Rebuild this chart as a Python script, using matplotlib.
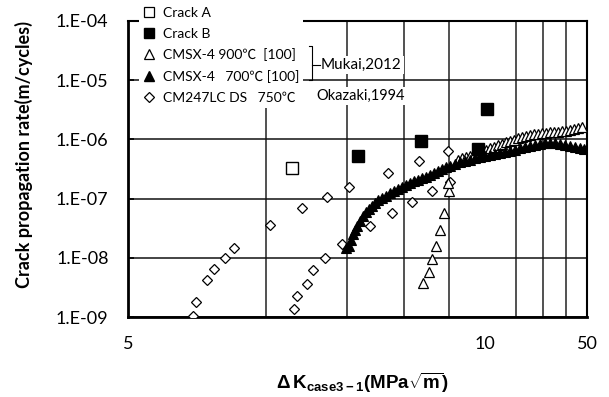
import matplotlib
matplotlib.use("Agg")
import matplotlib.pyplot as plt
from matplotlib.lines import Line2D

plt.rcParams['font.family'] = ['Lato', 'Noto Sans CJK JP', 'DejaVu Sans']
plt.rcParams['mathtext.fontset'] = 'custom'
plt.rcParams['mathtext.bf'] = 'Liberation Sans:bold'
plt.rcParams['mathtext.rm'] = 'Liberation Sans'

# --------------------------------------------------
# DATA  (dK in axis units, rate in m/cycle)
# --------------------------------------------------

crack_a_dk = [11.4]
crack_a_rate = [3.34e-7]

crack_b_dk = [15.85, 21.7, 28.9, 30.3]
crack_b_rate = [5.27e-7, 9.5e-7, 6.9e-7, 3.3e-6]

# CMSX-4 900C [100]  (Mukai, 2012)
cmsx900_dk = [22.0, 22.6, 23.0, 23.4, 23.95, 24.4, 25.0, 24.9,
              26.2, 26.7, 27.25, 27.8, 28.4, 28.9, 29.5, 30.1, 30.7, 31.4,
              32.0, 32.65, 33.3, 34.0, 34.7, 35.4, 36.1, 36.8, 37.6, 38.3,
              39.1, 39.9, 40.7, 41.5, 42.4, 43.2, 44.1, 45.0, 45.9, 46.8,
              47.8, 48.8]
cmsx900_rate = [3.74e-9, 5.65e-9, 9.5e-9, 1.59e-8, 2.97e-8, 5.68e-8, 1.32e-7, 1.85e-7,
                4.51e-7, 4.78e-7, 5.07e-7, 5.27e-7, 5.47e-7, 5.81e-7, 6.15e-7, 6.65e-7,
                7.05e-7, 7.47e-7, 7.92e-7, 8.39e-7, 8.9e-7, 9.44e-7, 9.81e-7, 1.04e-6,
                1.08e-6, 1.12e-6, 1.17e-6, 1.21e-6, 1.24e-6, 1.26e-6, 1.29e-6, 1.31e-6,
                1.31e-6, 1.34e-6, 1.36e-6, 1.39e-6, 1.45e-6, 1.50e-6, 1.56e-6, 1.63e-6]

# CMSX-4 700C [100]  (Mukai, 2012)
cmsx700_dk = [14.9, 15.15, 15.3, 15.46, 15.6, 15.8, 16.0, 16.25, 16.5, 16.75, 17.0,
              17.26, 17.5, 17.9, 18.2, 18.6, 19.0, 19.4, 19.8, 20.2, 20.6,
              21.0, 21.4, 21.9, 22.3, 22.75, 23.2, 23.7, 24.2, 24.65, 25.15,
              25.8, 26.4, 27.1, 27.8, 28.5, 29.2, 30.0, 30.7, 31.5, 32.3,
              33.1, 34.0, 34.85, 35.7, 36.6, 37.6, 38.5, 39.5, 40.5, 41.5,
              42.6, 43.7, 44.8, 45.9, 47.1, 48.3, 49.25]
cmsx700_rate = [1.45e-8, 1.59e-8, 2.01e-8, 2.54e-8, 2.97e-8, 3.47e-8, 4.21e-8, 5.12e-8,
                5.97e-8, 6.71e-8, 7.55e-8, 8.48e-8, 9.53e-8, 1.03e-7, 1.11e-7, 1.25e-7,
                1.35e-7, 1.46e-7, 1.58e-7, 1.71e-7, 1.85e-7, 2.0e-7, 2.07e-7, 2.24e-7,
                2.33e-7, 2.52e-7, 2.72e-7, 2.94e-7, 3.18e-7, 3.43e-7, 3.57e-7, 3.86e-7,
                4.17e-7, 4.34e-7, 4.51e-7, 4.88e-7, 5.07e-7, 5.27e-7, 5.47e-7, 5.69e-7,
                5.92e-7, 6.15e-7, 6.4e-7, 6.65e-7, 7.19e-7, 7.47e-7, 7.77e-7, 8.07e-7,
                8.39e-7, 8.56e-7, 8.73e-7, 8.73e-7, 8.39e-7, 8.07e-7, 7.77e-7, 7.47e-7,
                7.19e-7, 6.92e-7]

# CM247LC DS 750C  (Okazaki, 1994)
cm247_dk = [6.94, 7.02, 7.43, 7.68, 8.13, 8.52, 10.2, 11.5, 11.7, 12.25, 12.65,
            13.4, 14.6, 11.95, 13.55, 15.15, 16.8, 18.4, 18.8, 20.8, 21.5, 23.0,
            24.9, 25.1]
cm247_rate = [1.03e-9, 1.79e-9, 4.14e-9, 6.35e-9, 1.0e-8, 1.46e-8, 3.56e-8, 1.39e-9,
              2.22e-9, 3.64e-9, 6.2e-9, 9.9e-9, 1.74e-8, 6.98e-8, 1.06e-7, 1.54e-7,
              3.47e-8, 2.75e-7, 5.82e-8, 8.9e-8, 4.39e-7, 1.32e-7, 6.47e-7, 1.92e-7]

y_ticks = [1e-9, 1e-8, 1e-7, 1e-6, 1e-5, 1e-4]
y_tick_labels = ["1.E-09", "1.E-08", "1.E-07", "1.E-06", "1.E-05", "1.E-04"]
x_grid = [10, 15, 20, 25, 30, 35, 40, 45]
x_ticks = [5, 30, 50]
x_tick_labels = ["5", "10", "50"]

# --------------------------------------------------
# PLOT
# --------------------------------------------------

fig = plt.figure(figsize=(6.09, 3.97), dpi=100)
ax = fig.add_axes([128 / 609, 1 - 317 / 397, 459 / 609, 296 / 397])

ax.plot(cm247_dk, cm247_rate, ls='none', marker='D', ms=5.4, mfc='white',
        mec='black', mew=0.9, zorder=3)
ax.plot(cmsx900_dk, cmsx900_rate, ls='none', marker='^', ms=7.6, mfc='white',
        mec='black', mew=0.9, zorder=4)
ax.plot(cmsx700_dk, cmsx700_rate, ls='none', marker='^', ms=7.4, mfc='black',
        mec='black', mew=0.8, zorder=5)
ax.plot(crack_a_dk, crack_a_rate, ls='none', marker='s', ms=8.2, mfc='white',
        mec='black', mew=1.0, zorder=6)
ax.plot(crack_b_dk, crack_b_rate, ls='none', marker='s', ms=8.8, mfc='black',
        mec='black', zorder=6)

ax.set_xscale('log')
ax.set_yscale('log')
ax.set_xlim(5, 50)
ax.set_ylim(1e-9, 1e-4)

ax.set_yticks(y_ticks)
ax.set_yticklabels(y_tick_labels)
ax.yaxis.set_minor_locator(matplotlib.ticker.NullLocator())
ax.set_xticks(x_ticks)
ax.set_xticklabels(x_tick_labels)
ax.set_xticks(x_grid, minor=True)
ax.xaxis.set_minor_formatter(matplotlib.ticker.NullFormatter())

ax.tick_params(axis='y', which='major', direction='in', length=4, width=1.2,
               pad=14, labelsize=13)
ax.tick_params(axis='x', which='both', length=0, pad=14, labelsize=13)

ax.grid(axis='y', which='major', color='#111111', lw=1.1)
ax.grid(axis='x', which='minor', color='#222222', lw=1.1)
ax.set_axisbelow(True)

for side in ['left', 'bottom']:
    ax.spines[side].set_linewidth(2.0)
for side in ['top', 'right']:
    ax.spines[side].set_linewidth(1.5)

ax.set_ylabel("Crack propagation rate(m/cycles)", fontsize=13, fontweight='bold')
ax.yaxis.set_label_coords(-0.208, 0.55)

fig.text(363 / 609, 1 - 383 / 397, r"$\mathbf{\Delta\,K_{case3-1}(MPa\sqrt{m})}$",
         ha='center', va='center', fontsize=13.5)

# legend
handles = [
    Line2D([], [], ls='none', marker='s', ms=7, mfc='white', mec='black', mew=0.9),
    Line2D([], [], ls='none', marker='s', ms=7, mfc='black', mec='black'),
    Line2D([], [], ls='none', marker='^', ms=7.5, mfc='white', mec='black', mew=0.9),
    Line2D([], [], ls='none', marker='^', ms=7.5, mfc='black', mec='black'),
    Line2D([], [], ls='none', marker='D', ms=5, mfc='white', mec='black', mew=0.9),
]
labels = ["Crack A", "Crack B", "CMSX-4 900\u2103  [100]",
          "CMSX-4   700\u2103 [100]", "CM247LC DS   750\u2103"]
leg = fig.legend(handles, labels, loc='upper left',
                 bbox_to_anchor=(139 / 609, 1 - 3 / 397),
                 borderaxespad=0, borderpad=0.3, handlelength=0.8, handletextpad=0.6,
                 labelspacing=0.62, fontsize=10, frameon=True, fancybox=False,
                 facecolor='white', edgecolor='none', framealpha=1)

# brace joining the two Mukai entries
fig.add_artist(Line2D([309 / 609, 312 / 609, 312 / 609, 309 / 609],
                      [1 - 46 / 397, 1 - 46 / 397, 1 - 80 / 397, 1 - 80 / 397],
                      transform=fig.transFigure, color='black', lw=0.8, zorder=6))
fig.add_artist(Line2D([312 / 609, 320 / 609], [1 - 65 / 397, 1 - 65 / 397],
                      transform=fig.transFigure, color='black', lw=0.8, zorder=6))

fig.text(321 / 609, 1 - 65 / 397, "Mukai,2012", ha='left', va='center', fontsize=11,
         bbox=dict(fc='white', ec='none', pad=1.5))
fig.text(316 / 609, 1 - 96 / 397, "Okazaki,1994", ha='left', va='center', fontsize=10.5,
         bbox=dict(fc='white', ec='none', pad=1.5))

fig.savefig("out.png", dpi=100)
